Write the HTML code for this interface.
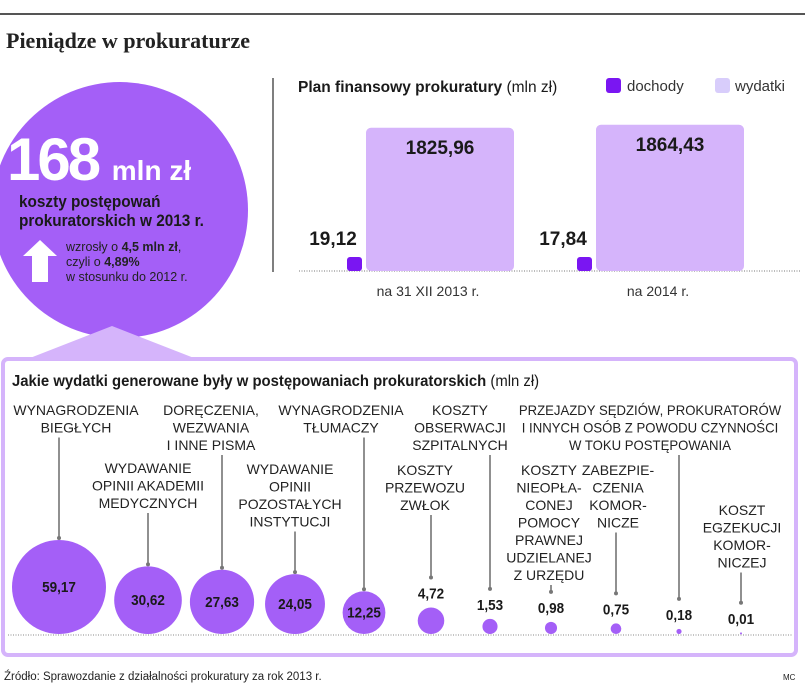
<!DOCTYPE html>
<html><head><meta charset="utf-8">
<style>
body{margin:0;background:#fff;}
svg{display:block;font-family:"Liberation Sans",sans-serif;}
.t{font-size:14px;fill:#222;text-anchor:middle;}
</style></head>
<body>
<svg width="805" height="697" viewBox="0 0 805 697">
<line x1="0" y1="14" x2="805" y2="14" stroke="#555" stroke-width="2"/>
<text x="6" y="48" font-family="Liberation Serif,serif" font-weight="bold" font-size="22" fill="#222">Pieniądze w prokuraturze</text>

<circle cx="120" cy="210" r="128" fill="#a45ff7"/>
<polygon points="30,358 112,326 194,358" fill="#d5b4fb"/>
<text x="7" y="180" font-size="60" font-weight="bold" fill="#fff" letter-spacing="-3">168 <tspan font-size="28" letter-spacing="0">mln zł</tspan></text>
<text x="19" y="207" font-size="16.5" font-weight="bold" fill="#1a1a1a" transform="translate(19,0) scale(0.93,1) translate(-19,0)">koszty postępowań</text>
<text x="19" y="226" font-size="16.5" font-weight="bold" fill="#1a1a1a" transform="translate(19,0) scale(0.93,1) translate(-19,0)">prokuratorskich w 2013 r.</text>
<polygon points="40,240 57,256 48,256 48,282 32,282 32,256 23,256" fill="#fff"/>
<text x="66" y="251" font-size="12.5" fill="#222">wzrosły o <tspan font-weight="bold">4,5 mln zł</tspan>,</text>
<text x="66" y="266" font-size="12.5" fill="#222">czyli o <tspan font-weight="bold">4,89%</tspan></text>
<text x="66" y="281" font-size="12.5" fill="#222">w stosunku do 2012 r.</text>

<line x1="273" y1="78" x2="273" y2="272" stroke="#555" stroke-width="1.5"/>
<text x="298" y="92" font-size="15.5" font-weight="bold" fill="#1a1a1a">Plan finansowy prokuratury <tspan font-weight="normal">(mln zł)</tspan></text>
<rect x="606" y="78" width="15" height="15" rx="3" fill="#7a16f2"/>
<text x="627" y="91" font-size="15" fill="#333">dochody</text>
<rect x="715" y="78" width="15" height="15" rx="3" fill="#d8cdfb"/>
<text x="735" y="91" font-size="15" fill="#333">wydatki</text>
<line x1="299" y1="271" x2="800" y2="271" stroke="#777" stroke-dasharray="1,1.5"/>
<g id="plan"></g>

<rect x="3" y="359" width="793" height="296" rx="5" fill="none" stroke="#d5b4fb" stroke-width="4"/>
<text x="12" y="386" font-size="16" font-weight="bold" fill="#1a1a1a" transform="translate(12,0) scale(0.93,1) translate(-12,0)">Jakie wydatki generowane były w postępowaniach prokuratorskich <tspan font-weight="normal">(mln zł)</tspan></text>
<line x1="8" y1="635" x2="792" y2="635" stroke="#888" stroke-dasharray="1,1.5"/>
<g id="bubbles"></g>

<text x="4" y="680" font-size="11.5" fill="#222">Źródło: Sprawozdanie z działalności prokuratury za rok 2013 r.</text>
<text x="783" y="680" font-size="8" fill="#222">MC</text>
</svg>
<script>
const planCats=["na 31 XII 2013 r.","na 2014 r."];
const planIncome=[19.12,17.84];
const planExpense=[1825.96,1864.43];
const planIncomeLbl=["19,12","17,84"];
const planExpenseLbl=["1825,96","1864,43"];

const bubCats=["WYNAGRODZENIA|BIEGŁYCH","WYDAWANIE|OPINII AKADEMII|MEDYCZNYCH","DORĘCZENIA,|WEZWANIA|I INNE PISMA","WYDAWANIE|OPINII|POZOSTAŁYCH|INSTYTUCJI","WYNAGRODZENIA|TŁUMACZY","KOSZTY|PRZEWOZU|ZWŁOK","KOSZTY|OBSERWACJI|SZPITALNYCH","KOSZTY|NIEOPŁA-|CONEJ|POMOCY|PRAWNEJ|UDZIELANEJ|Z URZĘDU","ZABEZPIE-|CZENIA|KOMOR-|NICZE","PRZEJAZDY SĘDZIÓW, PROKURATORÓW|I INNYCH OSÓB Z POWODU CZYNNOŚCI|W TOKU POSTĘPOWANIA","KOSZT|EGZEKUCJI|KOMOR-|NICZEJ"];
const bubValues=[59.17,30.62,27.63,24.05,12.25,4.72,1.53,0.98,0.75,0.18,0.01];
const bubLabels=["59,17","30,62","27,63","24,05","12,25","4,72","1,53","0,98","0,75","0,18","0,01"];

const NS="http://www.w3.org/2000/svg";
function mk(t,a,p){const e=document.createElementNS(NS,t);for(const k in a)e.setAttribute(k,a[k]);p.appendChild(e);return e;}
function squeeze(el,cx,s){el.setAttribute('transform','translate('+cx+',0) scale('+s+',1) translate('+(-cx)+',0)');}

const plan=document.getElementById('plan');
const base=271, pScale=149/1900;
const yP=v=>base-v*pScale;
const groupX=[366,596];
planCats.forEach((c,i)=>{
  const gx=groupX[i];
  const hE=base-yP(planExpense[i]);
  const r=mk('rect',{x:gx,y:base-hE,width:148,height:hE,rx:5,fill:'#d5b4fb'},plan);
  
  
  const hI=Math.max(14,base-yP(planIncome[i]));
  const s=mk('rect',{x:gx-19,y:base-hI,width:15,height:hI,rx:3,fill:'#7a16f2'},plan);
  
  
  const t1=mk('text',{x:gx+74,y:base-hE+26,'font-size':19,'font-weight':'bold',fill:'#1a1a1a','text-anchor':'middle'},plan);
  t1.textContent=planExpenseLbl[i];
  
  
  const t2=mk('text',{x:gx-33,y:base-hI-12,'font-size':19,'font-weight':'bold',fill:'#1a1a1a','text-anchor':'middle'},plan);
  t2.textContent=planIncomeLbl[i];
  
  
  const t3=mk('text',{x:gx+74-12,y:296,'font-size':14,fill:'#333','text-anchor':'middle'},plan);
  t3.textContent=c;
  
  
});

const bg=document.getElementById('bubbles');
const bx=[59,148,222,295,364,431,490,551,616,679,741];
const labelTop=[410,468,410,469,410,470,410,470,470,410,510];
const labelCx=[76,148,211,290,341,425,460,549,618,650,742];
const rScale=v=>47*Math.sqrt(v/bubValues[0]);
const bb=634;
bubValues.forEach((v,i)=>{
  const r=rScale(v);
  const cy=bb-r;
  const inside=r>18;
  const lines=bubCats[i].split('|');
  const lastY=labelTop[i]+(lines.length-1)*17.5;
  const valY=inside? cy+5 : cy-r-9;
  const lineEnd=inside? cy-r : valY-19;
  const ln=mk('line',{x1:bx[i],y1:lastY+10,x2:bx[i],y2:lineEnd-2,stroke:'#555','stroke-width':1.3},bg);
  
  
  const d=mk('circle',{cx:bx[i],cy:lineEnd-2,r:2,fill:'#777'},bg);
  
  
  const c=mk('circle',{cx:bx[i],cy:cy,r:Math.max(r,1),fill:'#a45ff7'},bg);
  
  
  const vt=mk('text',{x:bx[i],y:valY,'font-size':15,'font-weight':'bold',fill:'#1a1a1a','text-anchor':'middle'},bg);
  vt.textContent=bubLabels[i];
  squeeze(vt,bx[i],0.9);
  
  
  lines.forEach((l,j)=>{
    const t=mk('text',{x:labelCx[i],y:labelTop[i]+j*17.5+5,class:'t'},bg);
    t.textContent=l;
    squeeze(t,labelCx[i],i===9?0.94:1.0);
    
    
  });
});
</script>
</body></html>
